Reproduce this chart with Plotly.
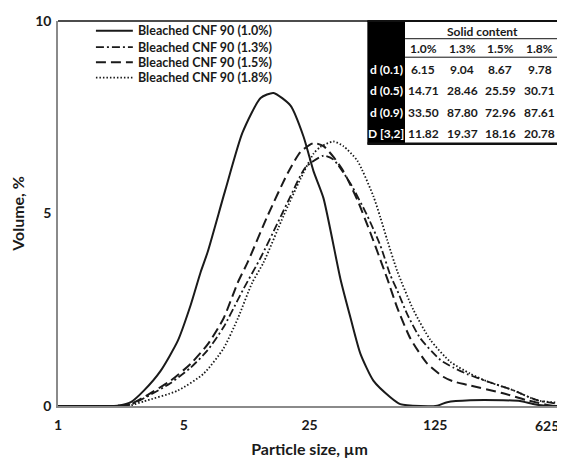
import plotly.graph_objects as go
import math

# ---------------- data ----------------
size_10 = [1, 1.5, 2.045, 2.236, 2.541, 3.0, 3.727, 4.63, 5.47, 6.21, 6.79, 8.5, 10.6, 13.37, 15.78,
           19.61, 23.15, 26.31, 29.89, 37.14, 42.2, 47.94, 56.61, 70.35, 79.9, 103.2, 128.2, 145.7,
           195.5, 297.9, 370.2, 437, 500, 617]
vol_10 = [0, 0, 0, 0.02, 0.1, 0.4, 0.92, 1.69, 2.63, 3.48, 4.0, 5.6, 7.1, 8.0, 8.13,
          7.8, 7.0, 6.1, 5.4, 3.3, 2.3, 1.36, 0.66, 0.23, 0.05, 0.0, 0.01, 0.1,
          0.15, 0.15, 0.13, 0.05, 0.01, 0]

size_13 = [1, 2.045, 2.541, 3.0, 4.235, 5.47, 6.79, 8.33, 9.97, 10.76, 13.37, 16.61, 19.61, 23.75,
           29.89, 33.97, 42.2, 52.42, 61.9, 70.35, 76.9, 87.4, 103.2, 133.2, 157.3, 188.1, 242.8,
           338.6, 459.8, 617]
vol_13 = [0, 0, 0.04, 0.2, 0.6, 1.0, 1.45, 2.05, 2.75, 3.05, 3.85, 4.75, 5.45, 6.2,
          6.5, 6.4, 5.78, 4.94, 4.17, 3.4, 3.0, 2.38, 1.76, 1.2, 1.0, 0.83, 0.64,
          0.41, 0.15, 0.05]

size_15 = [1, 2.045, 2.541, 3.0, 4.235, 5.47, 6.79, 8.33, 9.97, 11.32, 14.62, 18.87, 22.28, 26.31,
           29.89, 33.97, 38.59, 46.14, 54.49, 61.9, 67.7, 76.9, 90.8, 112.8, 138.4, 157.3, 188.1,
           297.9, 404.7, 564, 625]
vol_15 = [0, 0, 0.05, 0.23, 0.66, 1.1, 1.6, 2.28, 3.2, 3.73, 4.94, 6.04, 6.6, 6.83,
          6.75, 6.47, 6.1, 5.35, 4.5, 3.8, 3.3, 2.55, 1.76, 1.1, 0.76, 0.64, 0.55,
          0.33, 0.15, 0.0, 0]

size_18 = [1, 2.045, 2.541, 3.0, 4.63, 6.45, 8.33, 10.0, 12.0, 13.89, 17.93, 22.28, 26.31, 28.77,
           33.97, 38.59, 46.14, 56.61, 61.9, 67.7, 76.9, 94.4, 117.3, 151.4, 195.5, 242.8, 338.6,
           459.8, 617]
vol_18 = [0, 0, 0.02, 0.12, 0.4, 0.84, 1.5, 2.28, 3.2, 3.73, 4.94, 5.9, 6.55, 6.73,
          6.87, 6.75, 6.37, 5.45, 4.9, 4.3, 3.5, 2.5, 1.72, 1.15, 0.84, 0.64, 0.41,
          0.15, 0.08]

series_names = ["Bleached CNF 90 (1.0%)", "Bleached CNF 90 (1.3%)",
                "Bleached CNF 90 (1.5%)", "Bleached CNF 90 (1.8%)"]

x_tick_vals = [1, 5, 25, 125, 625]
x_tick_text = ["1", "5", "25", "125", "625"]
y_tick_vals = [0, 5, 10]

table_title = "Solid content"
table_cols = ["1.0%", "1.3%", "1.5%", "1.8%"]
table_rows = ["d (0.1)", "d (0.5)", "d (0.9)", "D [3,2]"]
table_values = [
    [6.15, 9.04, 8.67, 9.78],
    [14.71, 28.46, 25.59, 30.71],
    [33.50, 87.80, 72.96, 87.61],
    [11.82, 19.37, 18.16, 20.78],
]

# ---------------- styles ----------------
FONT = "Lato"
INK = "#1a1a1a"
dashes = ["solid", "8px,3px,2px,3px", "10px,5px", "1.5px,2px"]
widths = [2, 1.8, 2, 1.8]
sizes = [size_10, size_13, size_15, size_18]
vols = [vol_10, vol_13, vol_15, vol_18]

fig = go.Figure()
for s, v, name, d, w in zip(sizes, vols, series_names, dashes, widths):
    fig.add_trace(go.Scatter(x=s, y=v, mode="lines", name=name,
                             line=dict(color=INK, width=w, dash=d, shape="spline", smoothing=0.6),
                             showlegend=False))

shapes = []
annotations = []

# frame top/right
shapes.append(dict(type="line", xref="paper", yref="paper", x0=0, x1=1, y0=1, y1=1,
                   line=dict(color="#111", width=1.5)))
shapes.append(dict(type="line", xref="paper", yref="paper", x0=1, x1=1, y0=0, y1=1,
                   line=dict(color="#222", width=1.5)))

# manual legend
leg_y = [0.9745, 0.932, 0.893, 0.853]
for name, d, w, yy in zip(series_names, dashes, widths, leg_y):
    shapes.append(dict(type="line", xref="paper", yref="paper", x0=0.0754, x1=0.1488, y0=yy, y1=yy,
                       line=dict(color=INK, width=w, dash=d)))
    annotations.append(dict(xref="paper", yref="paper", x=0.155, y=yy, text=name, showarrow=False,
                            xanchor="left", yanchor="middle",
                            font=dict(family=FONT, size=12.5, color=INK, weight="bold")))

# table
tx0, tx1, tx2 = 0.615, 0.690, 1.0
ty_top, ty_bot = 1.0, 0.681
shapes.append(dict(type="rect", xref="paper", yref="paper", x0=tx0, x1=tx1, y0=ty_bot, y1=ty_top,
                   fillcolor="#000", line=dict(width=0)))
shapes.append(dict(type="rect", xref="paper", yref="paper", x0=tx1, x1=tx2, y0=ty_bot, y1=ty_top,
                   fillcolor="white", line=dict(width=0), layer="above"))
shapes.append(dict(type="line", xref="paper", yref="paper", x0=tx1, x1=tx2, y0=0.954, y1=0.954,
                   line=dict(color="#111", width=1)))
shapes.append(dict(type="line", xref="paper", yref="paper", x0=tx1, x1=tx2, y0=0.906, y1=0.906,
                   line=dict(color="#111", width=1)))
shapes.append(dict(type="line", xref="paper", yref="paper", x0=tx0, x1=tx2, y0=ty_bot, y1=ty_bot,
                   line=dict(color="#111", width=2.5)))
shapes.append(dict(type="line", xref="paper", yref="paper", x0=tx0, x1=tx2, y0=ty_top, y1=ty_top,
                   line=dict(color="#111", width=2)))

annotations.append(dict(xref="paper", yref="paper", x=0.843, y=0.974, text=table_title, showarrow=False,
                        xanchor="center", yanchor="middle",
                        font=dict(family=FONT, size=12, color=INK, weight="bold")))
col_x = [0.726, 0.804, 0.879, 0.958]
row_y = [0.875, 0.819, 0.763, 0.707]
for cx, c in zip(col_x, table_cols):
    annotations.append(dict(xref="paper", yref="paper", x=cx, y=0.929, text=c, showarrow=False,
                            xanchor="center", yanchor="middle",
                            font=dict(family=FONT, size=12, color=INK, weight="bold")))
for ry, rlab, rvals in zip(row_y, table_rows, table_values):
    annotations.append(dict(xref="paper", yref="paper", x=(tx0 + tx1) / 2, y=ry, text=rlab, showarrow=False,
                            xanchor="center", yanchor="middle",
                            font=dict(family=FONT, size=12, color="white", weight="bold")))
    for cx, val in zip(col_x, rvals):
        annotations.append(dict(xref="paper", yref="paper", x=cx, y=ry, text=f"{val:.2f}", showarrow=False,
                                xanchor="center", yanchor="middle",
                                font=dict(family=FONT, size=12, color=INK, weight="bold")))

TICKFONT = dict(family=FONT, size=14, color=INK, weight="bold")
# last x tick label drawn right-aligned at its tick so it is not clipped by the page edge
annotations.append(dict(xref="x", yref="paper", x=math.log10(x_tick_vals[-1]), y=0, yanchor="top",
                        xanchor="right", yshift=-9, text=x_tick_text[-1], showarrow=False,
                        font=TICKFONT))

# the page body has an 8px default margin: the figure is sized to fill the remaining window
fig.update_layout(
    width=557, height=457,
    margin=dict(l=49, r=4, t=6, b=59),
    paper_bgcolor="white", plot_bgcolor="white",
    font=dict(family=FONT, color=INK),
    shapes=shapes, annotations=annotations,
    showlegend=False,
)
fig.update_xaxes(type="log", range=[0, math.log10(x_tick_vals[-1])], tickvals=x_tick_vals,
                 ticktext=x_tick_text[:-1] + [""],
                 showgrid=False, zeroline=False, showline=True, linecolor="#8a8a8a", linewidth=1.5,
                 ticks="", tickfont=TICKFONT, ticklabelstandoff=5,
                 title=dict(text="Particle size, µm", standoff=12,
                            font=dict(family=FONT, size=16, color=INK, weight="bold")))
fig.update_yaxes(range=[0, 10], tickvals=y_tick_vals, showgrid=False, zeroline=False,
                 showline=True, linecolor="#8a8a8a", linewidth=1.5, ticks="",
                 tickfont=TICKFONT, ticklabelstandoff=2, ticklabeloverflow="allow",
                 title=dict(text="Volume, %", standoff=12,
                            font=dict(family=FONT, size=16, color=INK, weight="bold")))

fig.write_html("out.html")
